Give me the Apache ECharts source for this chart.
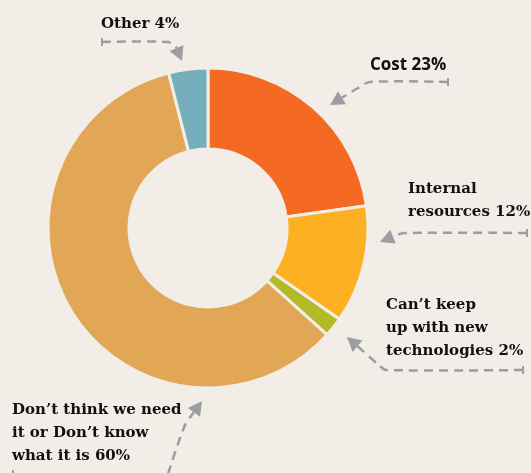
<!DOCTYPE html>
<html>
<head>
<meta charset="utf-8">
<script src="https://cdn.jsdelivr.net/npm/echarts@6/dist/echarts.min.js"></script>
<style>
html,body{margin:0;padding:0;background:#F2EDE7;}
#chart{width:531px;height:473px;}
</style>
</head>
<body>
<div id="chart"></div>
<script>
// Data
const categories = ['Cost', 'Internal resources', 'Can\u2019t keep up with new technologies', 'Don\u2019t think we need it or Don\u2019t know what it is', 'Other'];
const values = [23, 12, 2, 60, 4];
// Wrapped label names (text only)
const labelNames = ['Cost', 'Internal\nresources', 'Can\u2019t keep\nup with new\ntechnologies', 'Don\u2019t think we need\nit or Don\u2019t know\nwhat it is', 'Other'];
const colors = ['#F46A22', '#FDB022', '#B2BA27', '#E1A756', '#74AFBB'];

const chart = echarts.init(document.getElementById('chart'), null, {renderer: 'canvas'});
const bg = '#F2EDE7';
const gray = '#9B9EA1';
const labelFont = '"DejaVu Serif", serif';

function lbl(i){ return labelNames[i] + ' ' + values[i] + '%'; }

function arrowHead(tip, from, len, half){
  const dx = tip[0]-from[0], dy = tip[1]-from[1];
  const d = Math.sqrt(dx*dx+dy*dy);
  const ux = dx/d, uy = dy/d;
  const bx = tip[0]-ux*len, by = tip[1]-uy*len;
  return {type:'polygon', shape:{points:[tip,[bx-uy*half, by+ux*half],[bx+uy*half, by-ux*half]]}, style:{fill:gray}, z:10};
}
function dashed(points){
  return {type:'polyline', shape:{points:points, smooth:0.3}, style:{stroke:gray, lineWidth:2.5, lineDash:[9,6], fill:null}, z:10};
}
function tick(x,y1,y2){
  return {type:'line', shape:{x1:x,y1:y1,x2:x,y2:y2}, style:{stroke:gray, lineWidth:2}, z:10};
}
function arrow(pts, tip, tickX, tickY){
  const last = pts[pts.length-1];
  const dx = tip[0]-last[0], dy = tip[1]-last[1];
  const d = Math.sqrt(dx*dx+dy*dy);
  const len = 14;
  const base = [tip[0]-dx/d*len, tip[1]-dy/d*len];
  return [dashed(pts.concat([base])), arrowHead(tip, last, len, 7.5), tick(tickX, tickY-4, tickY+4)];
}
function text(str, x, y, font, size){
  return {type:'text', left:x, top:y, style:{text:str, fill:'#111', font:'bold '+size+'px '+font, lineHeight:23}, z:11};
}

const graphics = [].concat(
  arrow([[102,42],[168,42],[176,47]], [182,61], 102, 42),
  arrow([[448,82],[370,82],[358,88]], [330,105], 448, 82),
  arrow([[527,233],[404,233],[397,235]], [380,242], 527, 233),
  arrow([[523,370],[386,370],[380,366]], [347,337], 523, 370),
  arrow([[168,474],[185,425]], [202,401], 13, 474),
  [
    text(lbl(4), 101, 13, labelFont, 15),
    text(lbl(0), 370, 54, '"Open Sans", sans-serif', 17),
    text(lbl(1), 408, 178, labelFont, 15),
    text(lbl(2), 386, 294, labelFont, 15),
    text(lbl(3), 12, 399, labelFont, 15)
  ]
);

chart.setOption({
  backgroundColor: bg,
  animation: false,
  color: colors,
  series: [{
    type: 'pie',
    center: [208, 228],
    radius: [79, 160],
    startAngle: 90,
    clockwise: true,
    label: {show: false},
    labelLine: {show: false},
    itemStyle: {borderColor: bg, borderWidth: 3},
    emphasis: {disabled: true},
    data: categories.map((c, i) => ({name: c, value: values[i]}))
  }],
  graphic: graphics
});
</script>
</body>
</html>
